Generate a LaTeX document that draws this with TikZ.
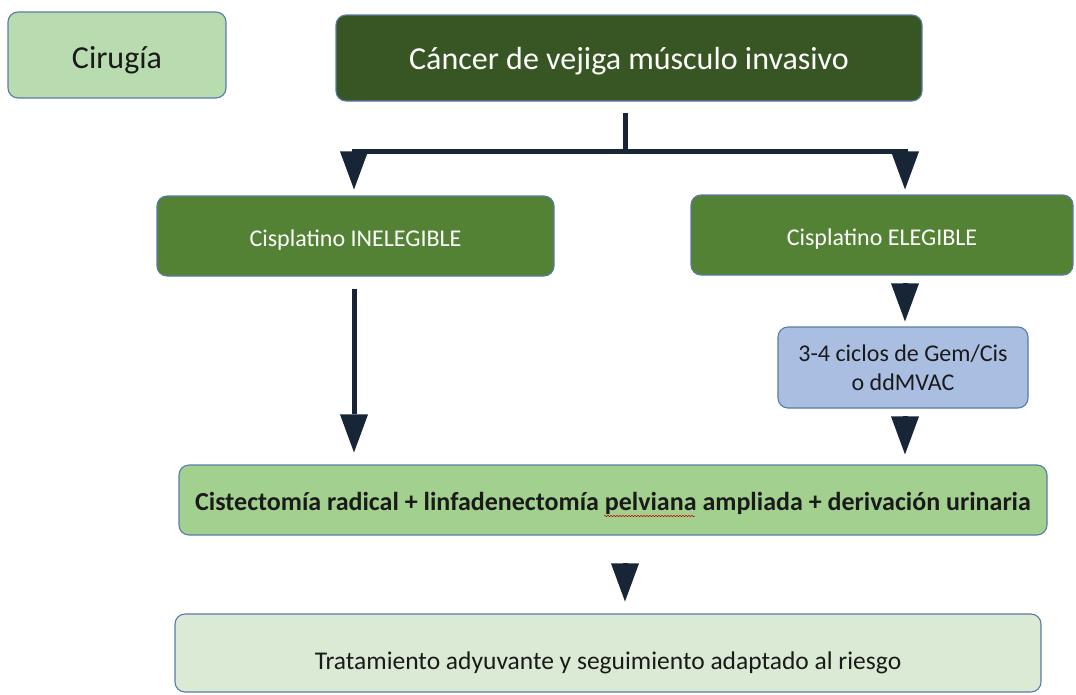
\documentclass[tikz,border=0pt]{standalone}
\usepackage{fontspec}
\setmainfont{Carlito}
\usetikzlibrary{arrows.meta,calc,decorations.pathmorphing}
\definecolor{bordc}{HTML}{5A7BA6}
\definecolor{arrc}{HTML}{172536}
\definecolor{cirfill}{HTML}{B8DCB0}
\definecolor{topfill}{HTML}{375623}
\definecolor{grfill}{HTML}{548235}
\definecolor{gemfill}{HTML}{A9BEE1}
\definecolor{cistfill}{HTML}{A2D08E}
\definecolor{tratfill}{HTML}{DAEAD4}
\definecolor{txt}{HTML}{1A1A1A}
\begin{document}
\begin{tikzpicture}[x=1pt,y=-1pt,
  box/.style={draw=bordc, line width=1.1pt, rounded corners=10pt, inner sep=0pt, align=center},
  wire/.style={draw=arrc, line width=5pt},
  tip/.style={-{Triangle[width=28pt,length=38pt,line width=0pt]}, fill=arrc}]
\useasboundingbox (0,0) rectangle (1076,694);

\node[box, fill=cirfill, minimum width=218pt, minimum height=86pt, text=txt, font=\fontsize{32}{38}\selectfont, text height=26pt, text depth=0pt] (cir) at (117,55) {Cirugía};
\node[box, fill=topfill, minimum width=586pt, minimum height=86pt, text=white, font=\fontsize{32}{38}\selectfont, text height=22pt, text depth=0pt] (top) at (629,58) {Cáncer de vejiga músculo invasivo};
\node[box, fill=grfill, minimum width=397pt, minimum height=80pt, text=white, font=\fontsize{24}{29}\selectfont, text height=20pt, text depth=0pt] (inel) at (355.5,236) {Cisplatino INELEGIBLE};
\node[box, fill=grfill, minimum width=382pt, minimum height=80pt, text=white, font=\fontsize{24}{29}\selectfont, text height=20pt, text depth=0pt] (el) at (882,235) {Cisplatino ELEGIBLE};
\node[box, fill=gemfill, minimum width=250pt, minimum height=81pt, text=txt, font=\fontsize{24}{28.5}\selectfont] (gem) at (903,367.5) {3-4 ciclos de Gem/Cis\\o ddMVAC};
\node[box, fill=cistfill, minimum width=868pt, minimum height=70pt, text=txt, font=\bfseries\fontsize{26}{31}\selectfont, text height=20pt, text depth=0pt] (cist) at (613,500) {Cistectomía radical + linfadenectomía pelviana ampliada + derivación urinaria};
\node[box, fill=tratfill, minimum width=866pt, minimum height=78pt, text=txt, font=\fontsize{25.5}{30}\selectfont, text height=32pt, text depth=0pt] (trat) at (608,653) {Tratamiento adyuvante y seguimiento adaptado al riesgo};

\coordinate (mx) at (625,0);
\coordinate (lx) at (354,0);
\coordinate (rx) at (905,0);
\coordinate (j) at (625,151);

% spell-check squiggle under "pelviana"
\draw[red!80!black, line width=0.5pt, decorate, decoration={snake, amplitude=0.7pt, segment length=3pt}]
  ($(cist.center)+(-9,16)$) -- ++(91,0);

% connectors
\draw[wire] ($(top.south -| mx)+(0,11)$) -- (j);
\draw[wire, tip, shorten >=6pt] (j) -| (inel.north -| lx);
\draw[wire, tip, shorten >=5pt] (j) -| (el.north -| rx);
\draw[wire, tip, shorten >=12pt] ($(inel.south -| lx)+(0,12)$) -- (cist.north -| lx);
\draw[wire, tip, shorten >=5pt] ($(el.south -| rx)+(0,8)$) -- (gem.north -| rx);
\draw[wire, tip, shorten >=10pt] ($(gem.south -| rx)+(0,8)$) -- (cist.north -| rx);
\draw[wire, tip, shorten >=12pt] ($(cist.south -| mx)+(0,28)$) -- (trat.north -| mx);
\end{tikzpicture}
\end{document}
